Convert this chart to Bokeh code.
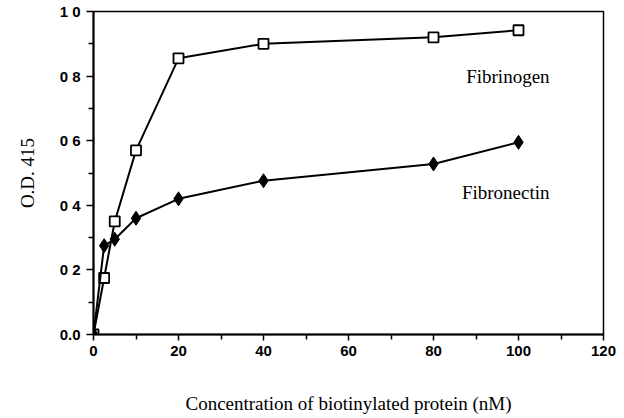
from bokeh.plotting import figure
from bokeh.models import FixedTicker, Range1d, Label
from bokeh.embed import file_html
from bokeh.resources import INLINE

# Binding of biotinylated proteins (O.D. 415 vs concentration, nM)
conc = [0, 2.5, 5, 10, 20, 40, 80, 100]
fibrinogen = [0.0, 0.175, 0.35, 0.57, 0.855, 0.90, 0.92, 0.942]
fibronectin = [0.0, 0.275, 0.295, 0.36, 0.42, 0.476, 0.528, 0.595]

x_ticks = [0, 20, 40, 60, 80, 100, 120]
x_minor = [10, 30, 50, 70, 90, 110]
y_ticks = [0.0, 0.2, 0.4, 0.6, 0.8, 1.0]
y_labels = ["0.0", "0 2", "0 4", "0 6", "0 8", "1 0"]
y_minor = [0.1, 0.3, 0.5, 0.7, 0.9]

SERIF = "Liberation Serif"
SANS = "Liberation Sans"

p = figure(width=624, height=418, output_backend="svg", toolbar_location=None,
           x_range=Range1d(0, 120), y_range=Range1d(0, 1.0))
p.min_border_left = 93
p.min_border_right = 21
p.min_border_top = 11
p.min_border_bottom = 84
p.grid.visible = False
p.background_fill_color = "white"
p.border_fill_color = "white"
p.outline_line_color = "black"
p.outline_line_width = 1.5

for ax in (p.xaxis[0], p.yaxis[0]):
    ax.axis_line_width = 2
    ax.axis_line_color = "black"
    ax.major_tick_in = 0
    ax.minor_tick_in = 0
    ax.major_tick_line_width = 1.5
    ax.minor_tick_line_width = 1.5
    ax.major_label_text_font = SANS
    ax.major_label_text_font_size = "15px"
    ax.major_label_text_font_style = "bold"
    ax.major_label_text_color = "black"
    ax.axis_label_text_font = SERIF
    ax.axis_label_text_font_style = "normal"
    ax.axis_label_text_font_size = "19px"
    ax.axis_label_text_color = "black"

p.xaxis.ticker = FixedTicker(ticks=x_ticks, minor_ticks=x_minor)
p.xaxis.major_tick_out = 6
p.xaxis.minor_tick_out = 5
p.xaxis.major_label_standoff = 5
p.xaxis.axis_label = "Concentration of biotinylated protein (nM)"
p.xaxis.axis_label_standoff = 34

p.yaxis.ticker = FixedTicker(ticks=y_ticks, minor_ticks=y_minor)
p.yaxis.major_label_overrides = {t: s for t, s in zip(y_ticks, y_labels)}
p.yaxis.major_tick_out = 7
p.yaxis.minor_tick_out = 5
p.yaxis.major_label_standoff = 6
p.yaxis.axis_label = "O.D. 415"
p.yaxis.axis_label_standoff = 19

# Fibrinogen: open squares
p.line(conc, fibrinogen, line_color="black", line_width=2)
p.scatter(conc, fibrinogen, marker="square", size=10, fill_color="white",
          line_color="black", line_width=1.8)

# Fibronectin: filled diamonds
p.line(conc, fibronectin, line_color="black", line_width=2)
p.scatter(conc, fibronectin, marker="diamond", size=14, fill_color="black",
          line_color="black")

# Series names written beside their curves
p.add_layout(Label(x=97.5, y=0.80, text="Fibrinogen", text_font=SERIF,
                   text_font_size="19px", text_align="center",
                   text_baseline="middle", text_color="black"))
p.add_layout(Label(x=97, y=0.44, text="Fibronectin", text_font=SERIF,
                   text_font_size="19px", text_align="center",
                   text_baseline="middle", text_color="black"))

open("out.html", "w").write(file_html(p, INLINE))
